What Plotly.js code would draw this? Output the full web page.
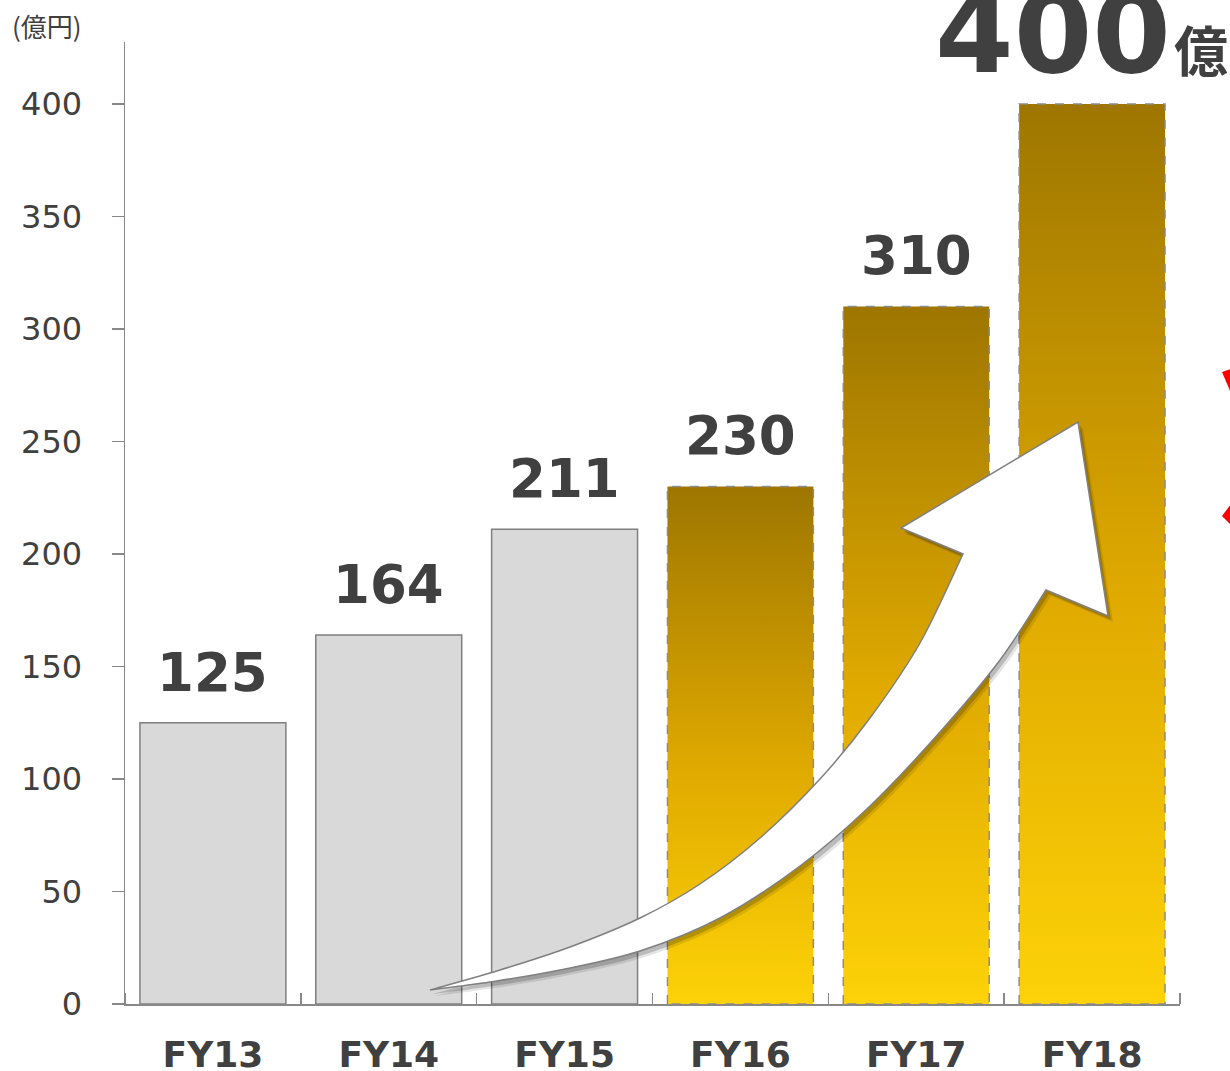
<!DOCTYPE html>
<html>
<head>
<meta charset="utf-8">
<script src="https://cdn.plot.ly/plotly-3.0.1.min.js"></script>
<style>
  html, body { margin: 0; padding: 0; background: #ffffff; }
  #chart { width: 1230px; height: 1071px; }
</style>
</head>
<body>
<div id="chart"></div>
<script>
// ---- data ----
const categories = ['FY13', 'FY14', 'FY15', 'FY16', 'FY17', 'FY18'];
const values = [125, 164, 211, 230, 310, 400];
const isTarget = [false, false, false, true, true, true];
const yTicks = [0, 50, 100, 150, 200, 250, 300, 350, 400];
const unitLabel = '(億円)';
const headlineUnit = '億';

// ---- layout constants ----
const W = 1230, H = 1071;
const M = { l: 125, r: 50, t: 42, b: 67 };
const plotW = W - M.l - M.r, plotH = H - M.t - M.b;
const barWidth = 0.83;
const ink = '#404040';
const axisGray = '#888888';

const idx = categories.map((_, i) => i);
const lastIdx = idx[idx.length - 1];
const actualIdx = idx.filter(i => !isTarget[i]);
const targetIdx = idx.filter(i => isTarget[i]);

const traces = [];
traces.push({
  type: 'bar',
  x: actualIdx,
  y: actualIdx.map(i => values[i]),
  width: barWidth,
  marker: { color: '#d9d9d9', line: { color: '#7f7f7f', width: 1.5 } },
  hoverinfo: 'skip',
  showlegend: false
});
targetIdx.forEach(i => {
  const x0 = i - barWidth / 2, x1 = i + barWidth / 2, v = values[i];
  traces.push({
    type: 'scatter',
    mode: 'lines',
    x: [x0, x0, x1, x1, x0],
    y: [0, v, v, 0, 0],
    fill: 'toself',
    fillgradient: {
      type: 'vertical',
      colorscale: [[0, '#fdd208'], [0.45, '#e0aa00'], [1, '#9e7600']]
    },
    line: { color: '#8c8c8c', width: 1.5, dash: 'dash' },
    hoverinfo: 'skip',
    showlegend: false
  });
});

// value labels (the last value is shown as the large headline instead)
const annotations = idx.filter(i => i !== lastIdx).map(i => ({
  x: i, y: values[i], xref: 'x', yref: 'y',
  text: String(values[i]),
  showarrow: false, xanchor: 'center', yanchor: 'bottom', yshift: 18,
  font: { family: 'DejaVu Sans, sans-serif', size: 53, color: ink, weight: 'bold' }
}));

// pixel -> paper helpers (for decorations)
const px = p => (p - M.l) / plotW;
const py = p => (H - M.b - p) / plotH;

annotations.push({
  xref: 'paper', yref: 'paper', x: px(10), y: py(5),
  xanchor: 'left', yanchor: 'top', showarrow: false,
  text: unitLabel,
  font: { family: 'Noto Sans CJK JP, DejaVu Sans, sans-serif', size: 26, color: ink }
});
annotations.push({
  xref: 'paper', yref: 'paper', x: px(1173), y: py(101),
  xanchor: 'right', yanchor: 'bottom', showarrow: false,
  text: String(values[lastIdx]),
  font: { family: 'DejaVu Sans, sans-serif', size: 113, color: ink, weight: 'bold' }
});
annotations.push({
  xref: 'paper', yref: 'paper', x: px(1230), y: py(90),
  xanchor: 'right', yanchor: 'bottom', showarrow: false,
  text: headlineUnit,
  font: { family: 'Noto Sans CJK JP, sans-serif', size: 54, color: ink, weight: 'bold' }
});

// curved arrow (decoration) drawn in paper coords
function smoothPath(pts) {
  let d = '';
  for (let k = 0; k < pts.length - 1; k++) {
    const p0 = pts[Math.max(k - 1, 0)], p1 = pts[k], p2 = pts[k + 1], p3 = pts[Math.min(k + 2, pts.length - 1)];
    const c1 = [p1[0] + (p2[0] - p0[0]) / 6, p1[1] + (p2[1] - p0[1]) / 6];
    const c2 = [p2[0] - (p3[0] - p1[0]) / 6, p2[1] - (p3[1] - p1[1]) / 6];
    d += ` C ${px(c1[0])},${py(c1[1])} ${px(c2[0])},${py(c2[1])} ${px(p2[0])},${py(p2[1])}`;
  }
  return d;
}
function arrowPath(dx, dy) {
  const sh = p => [p[0] + dx, p[1] + dy];
  const upper = [[430, 990], [500, 970], [570, 947], [640, 918], [700, 884], [760, 838], [820, 779],
                 [870, 718], [920, 643], [963, 554]].map(sh);
  const head = [[901, 528], [1078, 422], [1108, 616], [1046, 590]].map(sh);
  const lower = [[1046, 590], [1000, 660], [940, 732], [870, 806], [800, 866], [720, 918], [640, 951], [560, 970],
                 [490, 982], [430, 990]].map(sh);
  let d = `M ${px(upper[0][0])},${py(upper[0][1])}` + smoothPath(upper);
  head.forEach(p => { d += ` L ${px(p[0])},${py(p[1])}`; });
  d += smoothPath(lower) + ' Z';
  return d;
}
const shapes = [
  { type: 'path', xref: 'paper', yref: 'paper', path: arrowPath(5, 6), fillcolor: 'rgba(0,0,0,0.10)', line: { width: 0 } },
  { type: 'path', xref: 'paper', yref: 'paper', path: arrowPath(3, 4), fillcolor: 'rgba(0,0,0,0.18)', line: { width: 0 } },
  { type: 'path', xref: 'paper', yref: 'paper', path: arrowPath(0, 0), fillcolor: '#ffffff', line: { color: '#808080', width: 1.5 } },
  // partially visible red marks at right edge
  { type: 'path', xref: 'paper', yref: 'paper',
    path: `M ${px(1222)},${py(372)} L ${px(1231)},${py(369)} L ${px(1231)},${py(393)} Z`,
    fillcolor: '#ff0000', line: { width: 0 } },
  { type: 'path', xref: 'paper', yref: 'paper',
    path: `M ${px(1231)},${py(504)} L ${px(1222)},${py(516)} L ${px(1231)},${py(525)} Z`,
    fillcolor: '#ff0000', line: { width: 0 } }
];

const layout = {
  width: W, height: H,
  margin: M,
  paper_bgcolor: '#ffffff', plot_bgcolor: '#ffffff',
  showlegend: false,
  xaxis: {
    range: [-0.5, 5.5], fixedrange: true,
    showgrid: false, zeroline: false,
    showline: true, linecolor: axisGray, linewidth: 1.5,
    tickmode: 'array', tickvals: idx, ticktext: categories,
    ticks: '', ticklabelstandoff: 18,
    tickfont: { family: 'DejaVu Sans, sans-serif', size: 36, color: ink, weight: 'bold' },
    minor: {
      tickmode: 'array',
      tickvals: [-0.5].concat(idx.map(i => i + 0.5)),
      ticks: 'inside', ticklen: 11, tickwidth: 1.5, tickcolor: axisGray, showgrid: false
    }
  },
  yaxis: {
    range: [0, 427.5], fixedrange: true,
    showgrid: false, zeroline: false,
    showline: true, linecolor: axisGray, linewidth: 1.5,
    tickmode: 'array', tickvals: yTicks,
    ticks: 'outside', ticklen: 12, tickwidth: 1.5, tickcolor: axisGray,
    ticklabelstandoff: 23,
    tickfont: { family: 'DejaVu Sans, sans-serif', size: 32, color: ink }
  },
  annotations: annotations,
  shapes: shapes
};

Plotly.newPlot('chart', traces, layout, { staticPlot: true, displayModeBar: false });
</script>
</body>
</html>
